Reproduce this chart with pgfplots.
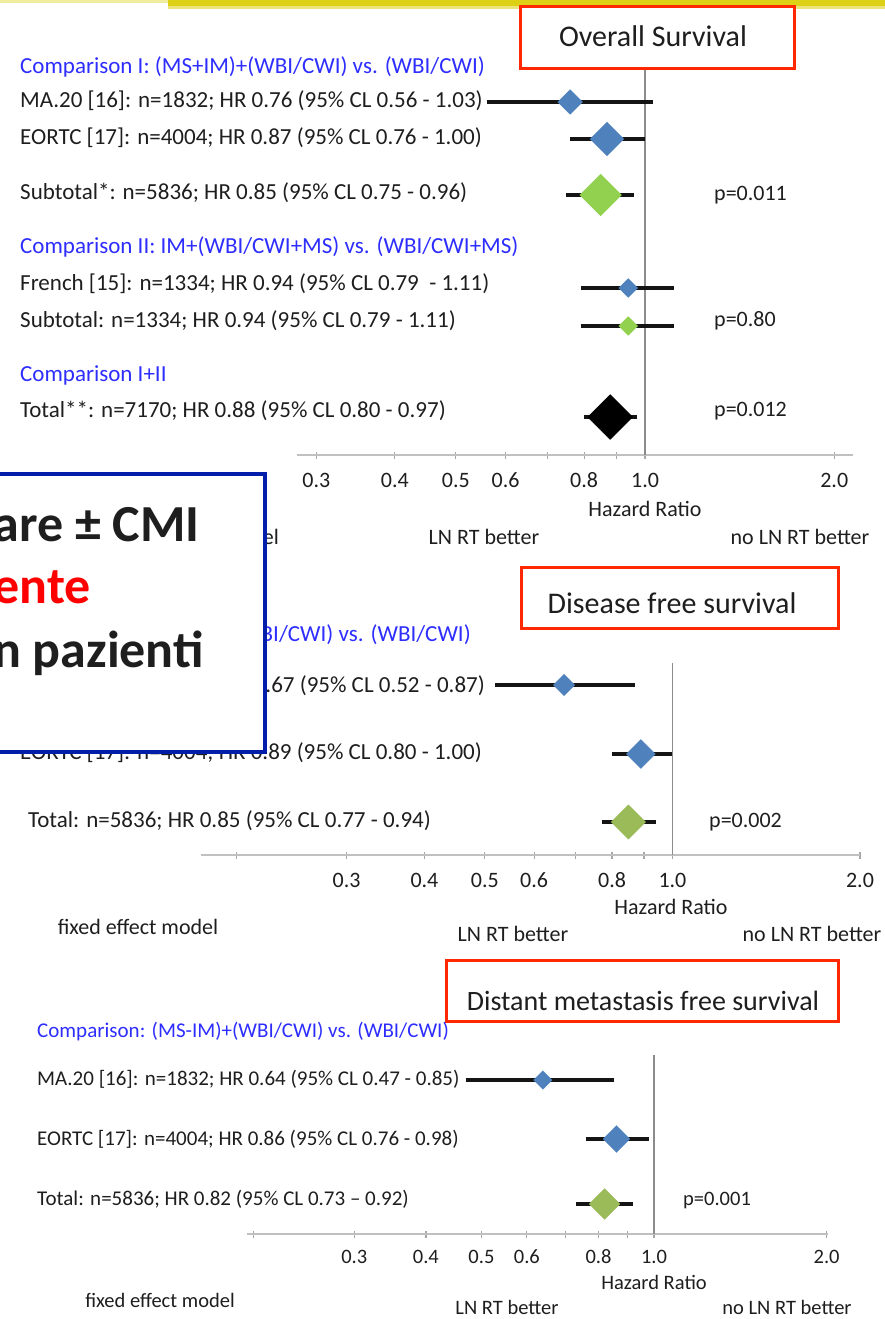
\documentclass[border=0pt]{standalone}
\usepackage{fontspec}
\setmainfont{Carlito}
\usepackage{pgfplots}
\pgfplotsset{compat=1.18}

\definecolor{mblue}{HTML}{4F81BD}
\definecolor{lgreen}{HTML}{92D050}
\definecolor{ogreen}{HTML}{9BBB59}
\definecolor{axgray}{HTML}{C0C0C0}
\definecolor{tickgray}{HTML}{A6A6A6}
\definecolor{refgray}{HTML}{8C8C8C}
\definecolor{txt}{HTML}{1E1E1E}
\definecolor{headblue}{RGB}{45,45,255}
\definecolor{boxred}{RGB}{255,40,0}
\definecolor{navy}{RGB}{0,30,170}
\definecolor{bartop}{RGB}{222,208,20}
\definecolor{barlow}{RGB}{236,228,120}
\definecolor{thinbar}{RGB}{240,236,160}

\newcommand\fs[1]{\fontsize{#1}{#1}\selectfont}

\pgfplotsset{
  ci/.style={draw=black!92, line width=3.3pt, forget plot},
  refline/.style={draw=refgray, line width=1.3pt, forget plot},
  dia/.style={only marks, mark=square*,
    mark options={fill=#1, draw=#1, rotate=45, line width=0.2pt}},
}

\begin{document}
\begin{tikzpicture}
\path[use as bounding box] (0pt,0pt) rectangle (885pt,-1319pt);

% ---------------- Overall survival ----------------
\begin{axis}[scale only axis, xmode=log, clip=false,
  axis x line*=bottom, axis y line=none,
  x axis line style={-, draw=axgray, line width=2.6pt},
  ytick=\empty, xminorticks=false,
  major tick length=7pt, tick align=center,
  xtick style={draw=tickgray, line width=1.2pt},
  at={(297pt,-455pt)}, anchor=south west,
  width=556pt, height=395pt,
  xmin=0.2795, xmax=2.142, ymin=-455, ymax=-60,
  xtick={0.3,0.4,0.5,0.6,0.7,0.8,0.9,1,2},
  xticklabels={0.3,0.4,0.5,0.6,{},0.8,{},1.0,2.0},
  xticklabel style={anchor=base, text=txt, font=\fs{22}, yshift=-28.5pt}]
  \addplot[refline] coordinates {(1,-69) (1,-455)};
  % MA.20
  \addplot[ci] coordinates {(0.56,-102) (1.03,-102)};
  \addplot[dia=mblue, mark size=8.8pt] coordinates {(0.76,-102)};
  % EORTC
  \addplot[ci] coordinates {(0.76,-139) (1.00,-139)};
  \addplot[dia=mblue, mark size=12.0pt] coordinates {(0.87,-139)};
  % Subtotal comparison I
  \addplot[ci] coordinates {(0.75,-195) (0.96,-195)};
  \addplot[dia=lgreen, mark size=14.8pt] coordinates {(0.85,-195)};
  % French
  \addplot[ci] coordinates {(0.79,-288) (1.11,-288)};
  \addplot[dia=mblue, mark size=6.7pt] coordinates {(0.94,-288)};
  % Subtotal comparison II
  \addplot[ci] coordinates {(0.79,-326) (1.11,-326)};
  \addplot[dia=lgreen, mark size=6.7pt] coordinates {(0.94,-326)};
  % Total I+II
  \addplot[ci] coordinates {(0.80,-417) (0.97,-417)};
  \addplot[dia=black, mark size=15.9pt] coordinates {(0.88,-417)};
\end{axis}

% ---------------- Disease free survival ----------------
\begin{axis}[scale only axis, xmode=log, clip=false,
  axis x line*=bottom, axis y line=none,
  x axis line style={-, draw=axgray, line width=2.6pt},
  ytick=\empty, xminorticks=false,
  major tick length=7pt, tick align=center,
  xtick style={draw=tickgray, line width=1.2pt},
  at={(201pt,-855pt)}, anchor=south west,
  width=659pt, height=195pt,
  xmin=0.1752, xmax=2.0, ymin=-855, ymax=-660,
  xtick={0.2,0.3,0.4,0.5,0.6,0.7,0.8,0.9,1,2},
  xticklabels={{},0.3,0.4,0.5,0.6,{},0.8,{},1.0,2.0},
  xticklabel style={anchor=base, text=txt, font=\fs{22}, yshift=-28.5pt}]
  \addplot[refline] coordinates {(1,-663) (1,-855)};
  \addplot[ci] coordinates {(0.52,-685) (0.87,-685)};
  \addplot[dia=mblue, mark size=7.6pt] coordinates {(0.67,-685)};
  \addplot[ci] coordinates {(0.80,-754) (1.00,-754)};
  \addplot[dia=mblue, mark size=10.3pt] coordinates {(0.89,-754)};
  \addplot[ci] coordinates {(0.77,-822) (0.94,-822)};
  \addplot[dia=ogreen, mark size=12.2pt] coordinates {(0.85,-822)};
\end{axis}

% ---------------- Distant metastasis free survival ----------------
\begin{axis}[scale only axis, xmode=log, clip=false,
  axis x line*=bottom, axis y line=none,
  x axis line style={-, draw=axgray, line width=2.6pt},
  ytick=\empty, xminorticks=false,
  major tick length=7pt, tick align=center,
  xtick style={draw=tickgray, line width=1.2pt},
  at={(247pt,-1234pt)}, anchor=south west,
  width=581pt, height=184pt,
  xmin=0.195, xmax=2.011, ymin=-1234, ymax=-1050,
  xtick={0.2,0.3,0.4,0.5,0.6,0.7,0.8,0.9,1,2},
  xticklabels={{},0.3,0.4,0.5,0.6,{},0.8,{},1.0,2.0},
  xticklabel style={anchor=base, text=txt, font=\fs{20.5}, yshift=-25.5pt}]
  \addplot[refline] coordinates {(1,-1055) (1,-1234)};
  \addplot[ci] coordinates {(0.47,-1080) (0.85,-1080)};
  \addplot[dia=mblue, mark size=6.6pt] coordinates {(0.64,-1080)};
  \addplot[ci] coordinates {(0.76,-1139) (0.98,-1139)};
  \addplot[dia=mblue, mark size=9.5pt] coordinates {(0.86,-1139)};
  \addplot[ci] coordinates {(0.73,-1204) (0.92,-1204)};
  \addplot[dia=ogreen, mark size=10.9pt] coordinates {(0.82,-1204)};
\end{axis}

\begin{scope}[x=1pt,y=-1pt, every node/.style={inner sep=0pt, text=txt}]
  % top rule
  \fill[thinbar] (0,0) rectangle (885,3);
  \fill[bartop] (168,0) rectangle (885,6);
  \fill[barlow] (168,6) rectangle (885,9);

  % ----- panel 1 text -----
  \draw[boxred, line width=3pt, fill=white] (520,7) rectangle (794,69);
  \node[font=\fs{30}] at (653,36) {Overall Survival};
  \begin{scope}[every node/.append style={font=\fs{23}, anchor=west}]
    \node[text=headblue] at (20,67) {Comparison I: (MS+IM)+(WBI/CWI) vs. (WBI/CWI)};
    \node at (20,101) {MA.20 [16]: n=1832; HR 0.76 (95\% CL 0.56 - 1.03)};
    \node at (20,138) {EORTC [17]: n=4004; HR 0.87 (95\% CL 0.76 - 1.00)};
    \node at (20,193) {Subtotal*: n=5836; HR 0.85 (95\% CL 0.75 - 0.96)};
    \node[text=headblue] at (20,247) {Comparison II: IM+(WBI/CWI+MS) vs. (WBI/CWI+MS)};
    \node at (20,284) {French [15]: n=1334; HR 0.94 (95\% CL 0.79\ \ - 1.11)};
    \node at (20,321) {Subtotal: n=1334; HR 0.94 (95\% CL 0.79 - 1.11)};
    \node[text=headblue] at (20,375) {Comparison I+II};
    \node at (20,411) {Total**: n=7170; HR 0.88 (95\% CL 0.80 - 0.97)};
  \end{scope}
  \begin{scope}[every node/.append style={font=\fs{22}}]
    \node[anchor=west] at (714,195) {p=0.011};
    \node[anchor=west] at (714,321) {p=0.80};
    \node[anchor=west] at (714,411) {p=0.012};
    \node at (645,509) {Hazard Ratio};
    \node at (484,537) {LN RT better};
    \node at (800,537) {no LN RT better};
    \node[anchor=east] at (279,537) {fixed effect model};
  \end{scope}

  % ----- panel 2 text -----
  \draw[boxred, line width=3pt, fill=white] (521,567) rectangle (838,628);
  \node[font=\fs{30}] at (672,603) {Disease free survival};
  \begin{scope}[every node/.append style={font=\fs{23}}]
    \node[text=headblue, anchor=east] at (471,635) {Comparison I: (MS+IM)+(WBI/CWI) vs. (WBI/CWI)};
    \node[anchor=east] at (485,686) {MA.20 [16]: n=1832; HR 0.67 (95\% CL 0.52 - 0.87)};
    \node[anchor=east] at (482,753) {EORTC [17]: n=4004; HR 0.89 (95\% CL 0.80 - 1.00)};
    \node[anchor=west] at (28,821) {Total: n=5836; HR 0.85 (95\% CL 0.77 - 0.94)};
  \end{scope}
  \begin{scope}[every node/.append style={font=\fs{22}}]
    \node[anchor=west] at (709,822) {p=0.002};
    \node at (671,907) {Hazard Ratio};
    \node at (138,927) {fixed effect model};
    \node at (513,934) {LN RT better};
    \node at (812,934) {no LN RT better};
  \end{scope}

  % ----- panel 3 text -----
  \draw[boxred, line width=3pt, fill=white] (446,960) rectangle (838,1021);
  \node[font=\fs{28}] at (643,1001) {Distant metastasis free survival};
  \begin{scope}[every node/.append style={font=\fs{21}, anchor=west}]
    \node[text=headblue] at (37,1031) {Comparison: (MS-IM)+(WBI/CWI) vs. (WBI/CWI)};
    \node at (37,1079) {MA.20 [16]: n=1832; HR 0.64 (95\% CL 0.47 - 0.85)};
    \node at (37,1139) {EORTC [17]: n=4004; HR 0.86 (95\% CL 0.76 - 0.98)};
    \node at (37,1199) {Total: n=5836; HR 0.82 (95\% CL 0.73 -- 0.92)};
  \end{scope}
  \begin{scope}[every node/.append style={font=\fs{20.5}}]
    \node[anchor=west] at (683,1200) {p=0.001};
    \node at (654,1282) {Hazard Ratio};
    \node at (160,1300) {fixed effect model};
    \node at (507,1307) {LN RT better};
    \node at (787,1307) {no LN RT better};
  \end{scope}

  % ----- callout box -----
  \draw[navy, line width=4pt, fill=white] (-10,474) rectangle (265,752);
  \begin{scope}[every node/.append style={font=\fs{52}\bfseries, anchor=base east}]
    \node at (200,541) {are \textpm\ CMI};
    \node[text=red] at (91,603) {ente};
    \node at (204,667) {n pazienti};
  \end{scope}
\end{scope}
\end{tikzpicture}
\end{document}
